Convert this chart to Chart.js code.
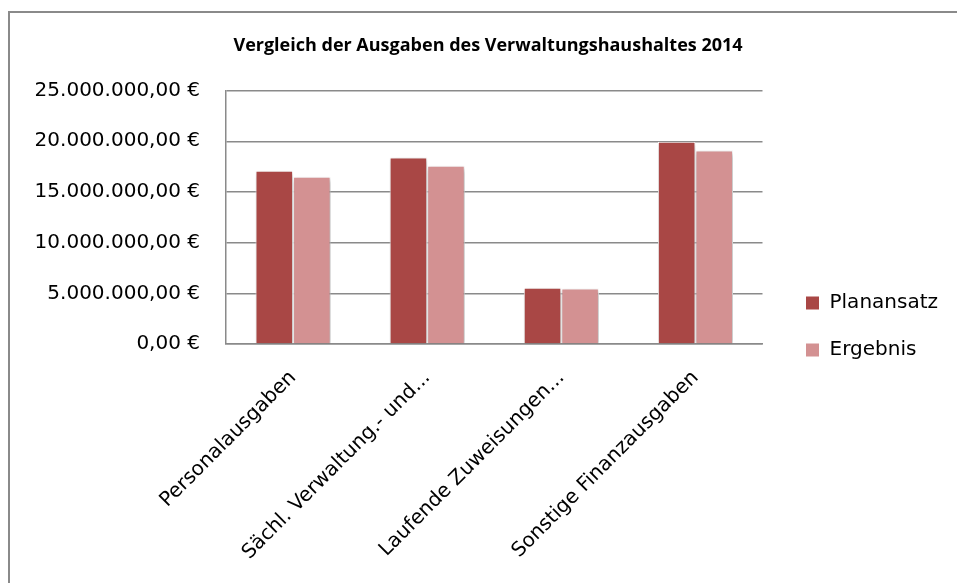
<!DOCTYPE html>
<html>
<head>
<meta charset="utf-8">
<script src="https://cdn.jsdelivr.net/npm/chart.js@4.4.1/dist/chart.umd.min.js"></script>
<style>
  html, body { margin: 0; padding: 0; background: #fff; overflow: hidden; }
  #frame {
    position: absolute; left: 8px; top: 11px;
    width: 962px; height: 627px;
    border: 2px solid #8a8a8a; border-right: none; border-bottom: none;
    background: #fff;
  }
  #frame canvas { display: block; }
</style>
</head>
<body>
<div id="frame"><canvas id="chart"></canvas></div>
<script>
/* global Chart */

// --- data ---
const categories = [
  'Personalausgaben',
  'Sächl. Verwaltung.- und...',
  'Laufende Zuweisungen...',
  'Sonstige Finanzausgaben',
];
const planansatz = [17090000, 18410000, 5560000, 19960000];
const ergebnis   = [16500000, 17590000, 5470000, 19100000];
const yTicks     = [0, 5000000, 10000000, 15000000, 20000000, 25000000];

// 25000000 -> "25.000.000,00 €"
function fmtEuro(v) {
  const int = String(Math.round(v)).replace(/\B(?=(\d{3})+(?!\d))/g, '.');
  return `${int},00 €`;
}

// soft drop shadow under the bars, like the Excel style
const barShadow = {
  id: 'barShadow',
  beforeDatasetsDraw(chart) {
    const ctx = chart.ctx;
    ctx.save();
    ctx.shadowColor = 'rgba(0,0,0,0.35)';
    ctx.shadowBlur = 5;
    ctx.shadowOffsetX = 1;
    ctx.shadowOffsetY = 2;
  },
  afterDatasetsDraw(chart) {
    chart.ctx.restore();
  },
};

// the title in the reference sits a bit right of the canvas centre
const titleNudge = {
  id: 'titleNudge',
  afterLayout(chart) {
    if (chart.titleBlock) chart.titleBlock.left += 8;
  },
};

const FONT = '"DejaVu Sans", "Open Sans", sans-serif';
const gridColor = '#8a8a8a';

new Chart(document.getElementById('chart'), {
  type: 'bar',
  data: {
    labels: categories,
    datasets: [
      {
        label: 'Planansatz',
        data: planansatz,
        backgroundColor: '#a94745',
        borderColor: '#ffffff',
        borderWidth: 1,
        categoryPercentage: 0.56,
        barPercentage: 1.0,
      },
      {
        label: 'Ergebnis',
        data: ergebnis,
        backgroundColor: '#d39192',
        borderColor: '#ffffff',
        borderWidth: 1,
        categoryPercentage: 0.56,
        barPercentage: 1.0,
      },
    ],
  },
  options: {
    responsive: true,
    maintainAspectRatio: false,
    animation: false,
    layout: { padding: { left: 10, right: 24, top: 0, bottom: 0 } },
    plugins: {
      title: {
        display: true,
        text: 'Vergleich der Ausgaben des Verwaltungshaushaltes 2014',
        color: '#000',
        font: { family: '"Open Sans", sans-serif', size: 18, weight: 'bold' },
        padding: { top: 22, bottom: 34 },
      },
      legend: {
        position: 'right',
        align: 'center',
        maxWidth: 300,
        labels: {
          color: '#000',
          font: { family: FONT, size: 20 },
          boxWidth: 14,
          boxHeight: 14,
          padding: 27,
        },
      },
      tooltip: { enabled: false },
    },
    scales: {
      x: {
        grid: { display: false },
        border: { display: true, color: gridColor, width: 1.5 },
        afterFit: (axis) => { axis.height = 296; },
        ticks: {
          color: '#000',
          font: { family: FONT, size: 20 },
          minRotation: 45,
          maxRotation: 45,
          autoSkip: false,
          padding: 14,
        },
      },
      y: {
        min: 0,
        max: 25000000,
        afterBuildTicks: (axis) => { axis.ticks = yTicks.map((v) => ({ value: v })); },
        afterFit: (axis) => { axis.width = 206; },
        grid: { color: gridColor, lineWidth: 1.5, drawTicks: false },
        border: { display: true, color: gridColor, width: 1.5 },
        ticks: {
          color: '#000',
          font: { family: FONT, size: 20 },
          padding: 26,
          callback: (value) => fmtEuro(value),
        },
      },
      // empty spacer between plot area and legend
      gap: {
        position: 'right',
        display: true,
        grid: { display: false },
        border: { display: false },
        ticks: { display: false },
        afterFit: (axis) => { axis.width = 16; },
      },
    },
  },
  plugins: [barShadow, titleNudge],
});
</script>
</body>
</html>
